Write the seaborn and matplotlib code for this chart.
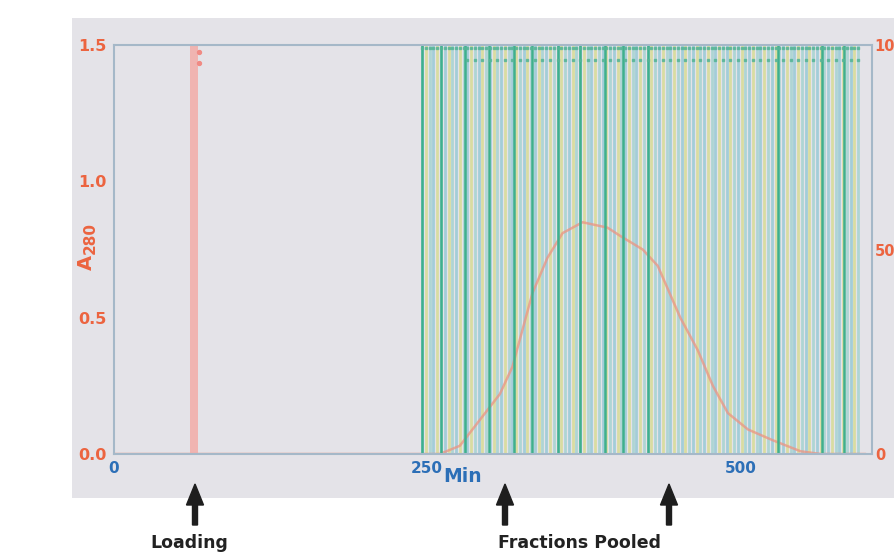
import numpy as np
import pandas as pd
import matplotlib
matplotlib.use("Agg")
import matplotlib.pyplot as plt
from matplotlib.patches import Rectangle, FancyArrow
import seaborn as sns

# A280 trace (min, absorbance)
trace_min = [0, 60, 70, 150, 250, 260, 276, 292, 308, 318, 334, 346, 358, 374, 394,
             404, 422, 434, 452, 466, 478, 490, 506, 526, 548, 564, 600]
trace_a280 = [0.0, 0.0, 0.0, 0.0, 0.0, 0.0, 0.03, 0.125, 0.22, 0.32, 0.59, 0.72, 0.81,
              0.85, 0.83, 0.80, 0.75, 0.69, 0.50, 0.38, 0.25, 0.15, 0.09, 0.05, 0.01,
              0.0, 0.0]

# fraction collector marks (min)
fractions = [246, 249, 252, 255, 258, 261, 264, 267, 270, 273, 276, 279, 282, 285, 288,
             291, 294, 297, 300, 303, 306, 309, 312, 315, 318, 321, 324, 327, 330, 333,
             336, 339, 342, 345, 348, 351, 354, 357, 360, 363, 366, 369, 372, 375, 378,
             381, 384, 387, 390, 393, 396, 399, 402, 405, 408, 411, 414, 417, 420, 423,
             426, 429, 432, 435, 438, 441, 444, 447, 450, 453, 456, 459, 462, 465, 468,
             471, 474, 477, 480, 483, 486, 489, 492, 495, 498, 501, 504, 507, 510, 513,
             516, 519, 522, 525, 528, 531, 534, 537, 540, 543, 546, 549, 552, 555, 558,
             561, 564, 567, 570, 573, 576, 579, 582, 585, 588, 591, 594]
major_fractions = [246, 261, 280, 299, 319, 334, 354, 372, 392, 406, 426, 530, 565, 583]

loading_start, loading_end = 61, 67

x_ticks = [0, 250, 500]
y_ticks = [0.0, 0.5, 1.0, 1.5]
y_ticklabels = ["0.0", "0.5", "1.0", "1.5"]
y2_ticks = [0, 50, 100]

RED = "#ec6440"
BLUE = "#2c6fb7"
PANEL = "#e4e3e8"

sns.set_theme(style="white")
plt.rcParams["font.family"] = ["Liberation Sans Narrow", "DejaVu Sans Condensed",
                               "DejaVu Sans"]

W, H = 894, 556
fig = plt.figure(figsize=(W / 100, H / 100), dpi=100)
fig.patch.set_facecolor("white")
fig.patches.append(Rectangle((72 / W, 1 - 498 / H), 1 - 72 / W, (498 - 18) / H,
                             transform=fig.transFigure, facecolor=PANEL,
                             edgecolor="none", zorder=-10))

ax = fig.add_axes([114 / W, 1 - 454 / H, (872 - 114) / W, (454 - 45) / H])
ax.set_facecolor(PANEL)

# fraction lines
cols = ["#9ccbd7", "#d8dc9a", "#a9d4d2"]
for i, f in enumerate(fractions):
    ax.axvline(f, color=cols[i % 3], lw=2.0, alpha=0.9, zorder=1)

df = pd.DataFrame({"min": trace_min, "a280": trace_a280})
sns.lineplot(data=df, x="min", y="a280", ax=ax, color="#ec9482", lw=1.8, alpha=0.75,
             zorder=1.5)

for f in major_fractions:
    ax.axvline(f, color="#3fb08d", lw=1.8, zorder=2)
ax.scatter(fractions, [1.488] * len(fractions), s=2, marker="s", color="#55b596",
           alpha=0.8, zorder=3)
ax.scatter(fractions[12::2], [1.445] * len(fractions[12::2]), s=2, marker="s",
           color="#55b596", alpha=0.8, zorder=3)

# loading band
ax.axvspan(loading_start, loading_end, color="#f4a9a4", alpha=0.8, lw=0, zorder=2)
ax.scatter([loading_end + 1, loading_end + 1], [1.475, 1.435], s=8, color="#f08a84",
           zorder=3)

ax.set_xlim(0, 605)
ax.set_ylim(0, 1.5)
ax.set_xticks(x_ticks)
ax.set_xticklabels([str(t) for t in x_ticks], color=BLUE, fontsize=11, fontweight="bold")
ax.set_yticks(y_ticks)
ax.set_yticklabels(y_ticklabels, color=RED, fontsize=11.5, fontweight="bold")
ax.tick_params(length=0, pad=5)
ax.set_xlabel("")
ax.set_ylabel("")
for s in ax.spines.values():
    s.set_color("#a5b8c8")
    s.set_linewidth(1.5)

ax2 = ax.twinx()
ax2.set_ylim(0, 100)
ax2.set_yticks(y2_ticks)
ax2.set_yticklabels([str(t) for t in y2_ticks], color=RED, fontsize=10.5, fontweight="bold")
ax2.tick_params(length=0, pad=2)
for s in ax2.spines.values():
    s.set_visible(False)

def px(x, y):
    return x / W, 1 - y / H

fig.text(*px(463, 476), "Min", color=BLUE, fontsize=13.5, fontweight="bold",
         ha="center", va="center")
fig.text(*px(86, 262), "A", color=RED, fontsize=14, fontweight="bold",
         rotation=90, ha="center", va="center")
fig.text(*px(90, 238), "280", color=RED, fontsize=11, fontweight="bold",
         rotation=90, ha="center", va="center")

for xa in [195, 505, 669]:
    x0, y0 = px(xa, 525)
    fig.patches.append(FancyArrow(x0, y0, 0, (525 - 484) / H, width=5 / W,
                                  head_width=17 / W, head_length=21 / H,
                                  length_includes_head=True, color="#1e1e1e",
                                  transform=fig.transFigure))

fig.text(*px(189, 543), "Loading", color="#222222", fontsize=12.5, fontweight="bold",
         ha="center", va="center")
fig.text(*px(580, 543), "Fractions Pooled", color="#222222", fontsize=12.5,
         fontweight="bold", ha="center", va="center")

fig.savefig("out.png", dpi=100)
